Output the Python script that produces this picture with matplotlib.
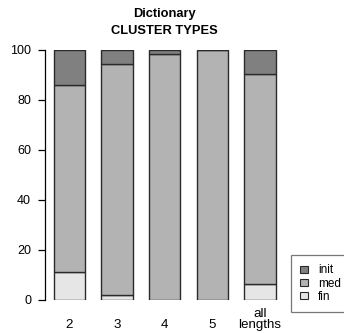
import matplotlib
matplotlib.use("Agg")
import matplotlib.pyplot as plt
from matplotlib.patches import Patch
import numpy as np

plt.rcParams['font.family'] = ['Liberation Sans', 'DejaVu Sans']

categories = ["2", "3", "4", "5", "all\nlengths"]
fin = [11.3, 2.0, 0.0, 0.0, 6.6]
med = [74.6, 92.3, 98.4, 100.0, 83.8]
init = [14.1, 5.7, 1.6, 0.0, 9.6]
series_names = ["init", "med", "fin"]
colors = {"init": "#808080", "med": "#B3B3B3", "fin": "#E6E6E6"}

W, H = 344, 333
fig = plt.figure(figsize=(W / 100, H / 100), dpi=100)
ax_left, ax_right = 45, 290
ax_top, ax_bot = 50, 300
ax = fig.add_axes([ax_left / W, (H - ax_bot) / H, (ax_right - ax_left) / W, (ax_bot - ax_top) / H])

x = np.arange(len(categories))
width = 0.66
edge = "#2a2a2a"
fin_a = np.array(fin); med_a = np.array(med); init_a = np.array(init)
ax.bar(x, fin_a, width, color=colors["fin"], edgecolor=edge, linewidth=1.0)
ax.bar(x, med_a, width, bottom=fin_a, color=colors["med"], edgecolor=edge, linewidth=1.0)
ax.bar(x, init_a, width, bottom=fin_a + med_a, color=colors["init"], edgecolor=edge, linewidth=1.0)

ax.set_xlim(-0.515, -0.515 + (ax_right - ax_left) / 47.6)
ax.set_ylim(0, 100)
for s in ["top", "right", "bottom"]:
    ax.spines[s].set_visible(False)
ax.spines["left"].set_bounds(0, 100)
ax.spines["left"].set_linewidth(0.9)
ax.set_yticks([0, 20, 40, 60, 80, 100])
ax.tick_params(axis="y", length=5, width=0.9, labelsize=9, pad=5)
ax.set_xticks(x)
ax.set_xticklabels(categories, fontsize=9.6, linespacing=0.9)
ax.tick_params(axis="x", length=0, pad=0)
for lbl in ax.get_xticklabels():
    lbl.set_verticalalignment("baseline")
    lbl.set_y(-28 / 250)

fig.text(164 / W, 1 - 14 / H, "Dictionary", ha="center", va="center", fontsize=9.3, fontweight="bold")
fig.text(164 / W, 1 - 31 / H, "CLUSTER TYPES", ha="center", va="center", fontsize=9.3, fontweight="bold")

handles = [Patch(facecolor=colors[n], edgecolor=edge, linewidth=0.8) for n in series_names]
leg = fig.legend(handles, series_names, loc="upper left", bbox_to_anchor=(291 / W, 1 - 255 / H),
                 fontsize=8.5, frameon=True, fancybox=False, handlelength=0.6, handleheight=0.6,
                 handletextpad=0.9, labelspacing=0.1, borderpad=0.8, borderaxespad=0)
leg.get_frame().set_edgecolor("#555555")
leg.get_frame().set_linewidth(0.9)

fig.savefig("out.png", dpi=100)
